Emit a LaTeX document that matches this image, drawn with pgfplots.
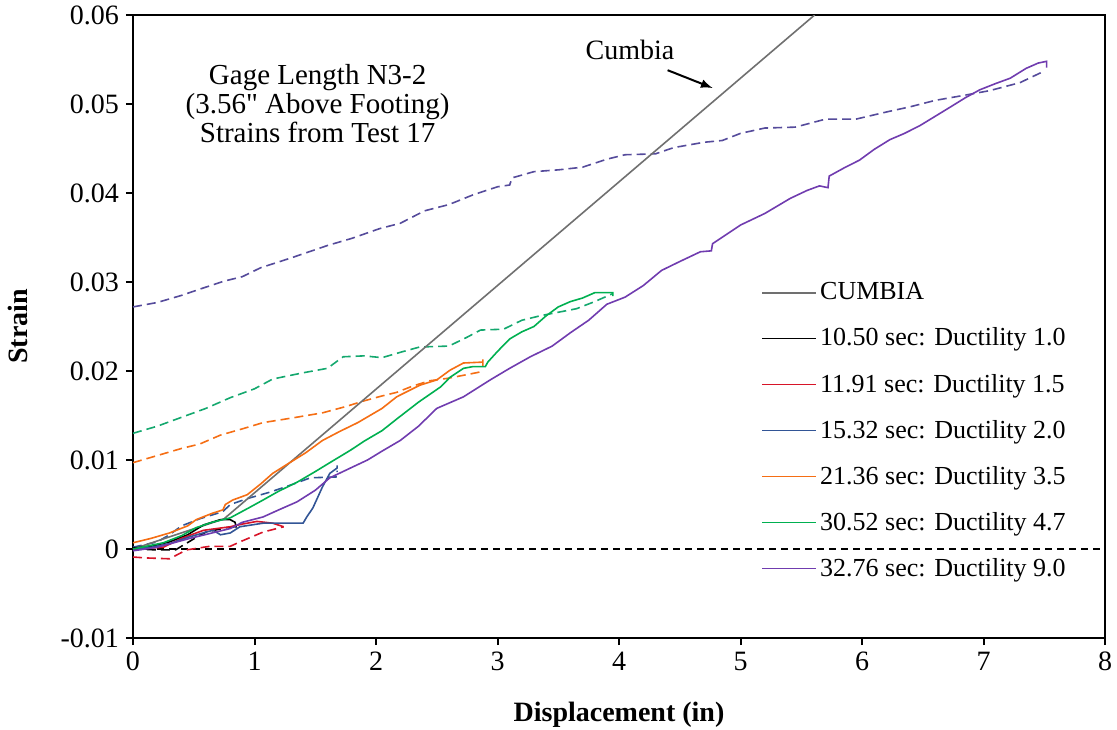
\documentclass[border=0pt]{standalone}
\usepackage{fontspec}
\setmainfont{Liberation Serif}[Ligatures=TeXOff]
\usepackage{pgfplots}
\pgfplotsset{compat=1.18}

\definecolor{cgray}{RGB}{112,112,112}
\definecolor{cred}{RGB}{215,20,40}
\definecolor{cblue}{RGB}{50,85,150}
\definecolor{corange}{RGB}{245,110,20}
\definecolor{cgreen}{RGB}{0,176,80}
\definecolor{cgreend}{RGB}{20,168,110}
\definecolor{cpurple}{RGB}{112,60,175}
\definecolor{cpurpled}{RGB}{85,75,155}

\begin{document}
\begin{tikzpicture}
\begin{axis}[
    scale only axis,
    width=486pt, height=311.5pt,
    xmin=0, xmax=8, ymin=-0.01, ymax=0.06,
    xtick={0,1,...,8},
    ytick={-0.01,0,0.01,0.02,0.03,0.04,0.05,0.06},
    yticklabels={-0.01,0,0.01,0.02,0.03,0.04,0.05,0.06},
    scaled y ticks=false,
    tick align=outside,
    xtick pos=bottom, ytick pos=left,
    major tick length=3.5pt,
    axis line style={line width=1pt},
    tick style={line width=1pt, black},
    /pgf/number format/assume math mode=true,
    tick label style={font=\fontsize{14}{16}\selectfont},
    xlabel={\textbf{Displacement (in)}},
    ylabel={\textbf{Strain}},
    label style={font=\fontsize{14}{16}\selectfont},
    xlabel style={at={(axis description cs:0.5,-0.124)}, anchor=center},
    ylabel style={at={(axis description cs:-0.118,0.5)}, anchor=center},
    legend style={at={(axis cs:5.17,0.0303)}, anchor=north west, draw=none, fill=none,
        font=\fontsize{13}{15}\selectfont, row sep=9.5pt, inner sep=0pt,
        nodes={inner sep=1.5pt}},
    legend cell align=left,
    legend image code/.code={\draw[#1, line width=0.8pt] (0pt,0pt) -- (27pt,0pt);},
    every axis plot/.append style={line width=0.8pt},
    clip=true,
]
% zero line
\addplot[black, line width=0.8pt, dash pattern=on 3.5pt off 2.5pt, forget plot] coordinates {(0,0) (8,0)};

% dashed companions
\addplot[cpurpled, dash pattern=on 4.5pt off 2.5pt, forget plot] coordinates {
(0,0.0272)(0.2,0.0277)(0.4,0.0285)(0.55,0.0292)(0.75,0.0301)(0.9,0.0306)(1.05,0.0316)
(1.3,0.0327)(1.6,0.0341)(1.8,0.0349)(2.03,0.0360)(2.2,0.0366)(2.4,0.0380)(2.6,0.0387)
(2.8,0.0398)(3.0,0.0407)(3.1,0.0409)(3.12,0.0417)(3.3,0.0424)(3.5,0.0426)(3.7,0.0429)
(3.9,0.0438)(4.05,0.0443)(4.3,0.0444)(4.45,0.0451)(4.7,0.0457)(4.85,0.0459)(5.0,0.0467)
(5.2,0.0473)(5.45,0.0474)(5.7,0.0483)(5.95,0.0483)(6.2,0.0491)(6.4,0.0497)(6.6,0.0504)
(6.85,0.0510)(7.05,0.0515)(7.3,0.0524)(7.5,0.0537)};
\addplot[cgreend, dash pattern=on 4.5pt off 2.5pt, forget plot] coordinates {
(0,0.0130)(0.2,0.0138)(0.4,0.0148)(0.6,0.0158)(0.8,0.0170)(1.0,0.0180)(1.15,0.0191)
(1.4,0.0198)(1.6,0.0203)(1.73,0.0216)(1.9,0.0217)(2.05,0.0215)(2.2,0.0221)(2.36,0.0227)
(2.6,0.0228)(2.75,0.0238)(2.86,0.0246)(3.05,0.0247)(3.2,0.0257)(3.35,0.0262)(3.5,0.0266)
(3.65,0.0270)(3.8,0.0278)(3.95,0.0287)};
\addplot[corange, dash pattern=on 4.5pt off 2.5pt, forget plot] coordinates {
(0,0.0097)(0.2,0.0105)(0.4,0.0113)(0.55,0.0118)(0.72,0.0128)(0.9,0.0135)(1.07,0.0142)
(1.3,0.0147)(1.56,0.0153)(1.75,0.0160)(1.89,0.0166)(2.05,0.0172)(2.17,0.0176)(2.3,0.0183)
(2.44,0.0189)(2.6,0.0192)(2.75,0.0196)(2.86,0.0199)};
\addplot[cblue, dash pattern=on 4.5pt off 2.5pt, forget plot] coordinates {
(0,0.0002)(0.2,0.0008)(0.3,0.0016)(0.4,0.0026)(0.55,0.0034)(0.74,0.0042)(0.8,0.0050)
(0.95,0.0057)(1.13,0.0064)(1.3,0.0072)(1.46,0.0080)(1.68,0.0081)(1.68,0.0088)};
\addplot[black, dash pattern=on 4.5pt off 2.5pt, forget plot] coordinates {
(0,0)(0.2,-0.0001)(0.35,-0.0001)(0.41,0.0004)(0.52,0.0013)(0.6,0.0019)(0.77,0.0024)(0.85,0.0025)};
\addplot[cred, dash pattern=on 4.5pt off 2.5pt, forget plot] coordinates {
(0,-0.0009)(0.1,-0.0010)(0.3,-0.0011)(0.44,-0.0001)(0.63,0.0003)(0.8,0.0003)(0.88,0.0008)
(1.07,0.0019)(1.24,0.0025)};

% solid series
\addplot[cgray] coordinates {(0,0)(0.75,0.0034)(5.61,0.060)};
\addlegendentry{CUMBIA}
\addplot[black] coordinates {
(0,0.0001)(0.15,0.0003)(0.3,0.0008)(0.45,0.0016)(0.58,0.0027)(0.72,0.0033)(0.8,0.0033)
(0.84,0.0030)(0.85,0.0024)};
\addlegendentry{10.50 sec: Ductility 1.0}
\addplot[cred] coordinates {
(0,0.0000)(0.25,0.0002)(0.4,0.0012)(0.58,0.0021)(0.8,0.0025)(0.9,0.0028)(1.02,0.0031)
(1.15,0.0029)(1.24,0.0025)};
\addlegendentry{11.91 sec: Ductility 1.5}
\addplot[cblue] coordinates {
(0,0)(0.15,0.0002)(0.3,0.0006)(0.45,0.0013)(0.6,0.0019)(0.66,0.0021)(0.72,0.0016)
(0.8,0.0018)(0.88,0.0025)(1.07,0.0029)(1.40,0.0029)(1.43,0.0036)(1.48,0.0046)
(1.56,0.0070)(1.62,0.0085)(1.68,0.0091)(1.68,0.0094)};
\addlegendentry{15.32 sec: Ductility 2.0}
\addplot[corange] coordinates {
(0,0.0007)(0.15,0.0012)(0.3,0.0018)(0.45,0.0026)(0.52,0.0033)(0.65,0.0040)(0.74,0.0044)
(0.76,0.0050)(0.82,0.0055)(0.94,0.0061)(1.05,0.0073)(1.15,0.0085)(1.29,0.0097)(1.42,0.0108)
(1.56,0.0122)(1.7,0.0132)(1.85,0.0142)(1.95,0.0150)(2.05,0.0158)(2.17,0.0171)(2.36,0.0184)
(2.5,0.0190)(2.61,0.0201)(2.72,0.0209)(2.88,0.0210)(2.88,0.0205)(2.88,0.0213)};
\addlegendentry{21.36 sec: Ductility 3.5}
\addplot[cgreen] coordinates {
(0,0)(0.25,0.0007)(0.4,0.0015)(0.52,0.0024)(0.65,0.0030)(0.8,0.0035)(0.95,0.0046)
(1.07,0.0055)(1.2,0.0065)(1.35,0.0075)(1.5,0.0087)(1.62,0.0097)(1.79,0.0111)(1.9,0.0121)
(2.05,0.0133)(2.17,0.0146)(2.35,0.0165)(2.53,0.0182)(2.61,0.0193)(2.72,0.0203)(2.8,0.0205)
(2.9,0.0205)(2.92,0.0210)(3.0,0.0222)(3.1,0.0236)(3.2,0.0244)(3.3,0.0250)(3.4,0.0262)
(3.5,0.0272)(3.6,0.0278)(3.7,0.0282)(3.8,0.0288)(3.95,0.0288)(3.95,0.0284)};
\addlegendentry{30.52 sec: Ductility 4.7}
\addplot[cpurple] coordinates {
(0,-0.0002)(0.2,0.0002)(0.47,0.0012)(0.65,0.0018)(0.8,0.0023)(0.9,0.0030)(1.07,0.0036)
(1.2,0.0044)(1.35,0.0053)(1.5,0.0066)(1.62,0.0080)(1.79,0.0091)(1.93,0.0100)(2.05,0.0110)
(2.2,0.0122)(2.35,0.0138)(2.5,0.0158)(2.72,0.0171)(2.94,0.0190)(3.1,0.0203)(3.27,0.0216)
(3.45,0.0228)(3.6,0.0243)(3.75,0.0257)(3.9,0.0275)(4.05,0.0283)(4.2,0.0296)(4.35,0.0313)
(4.5,0.0323)(4.67,0.0334)(4.76,0.0335)(4.77,0.0343)(5.0,0.0364)(5.2,0.0377)(5.41,0.0394)
(5.55,0.0403)(5.65,0.0408)(5.72,0.0406)(5.73,0.0419)(5.85,0.0428)(5.98,0.0437)(6.1,0.0449)
(6.23,0.0460)(6.35,0.0467)(6.48,0.0476)(6.6,0.0486)(6.72,0.0496)(6.85,0.0507)(6.97,0.0516)
(7.1,0.0523)(7.22,0.0529)(7.35,0.0540)(7.45,0.0546)(7.52,0.0548)(7.52,0.0541)};
\addlegendentry{32.76 sec: Ductility 9.0}

% annotations
\node[align=center, font=\fontsize{14.5}{14.5}\selectfont] at (axis cs:1.52,0.0500)
  {Gage Length N3-2\\(3.56" Above Footing)\\Strains from Test 17};
\node[font=\fontsize{14}{16}\selectfont] at (axis cs:4.09,0.0561) {Cumbia};
\draw[-latex, line width=1pt] (axis cs:4.40,0.0538) -- (axis cs:4.77,0.0518);
\end{axis}
\pgfresetboundingbox
\path[use as bounding box] (-66.5pt,-45.5pt) rectangle (492pt,319pt);
\end{tikzpicture}
\end{document}
